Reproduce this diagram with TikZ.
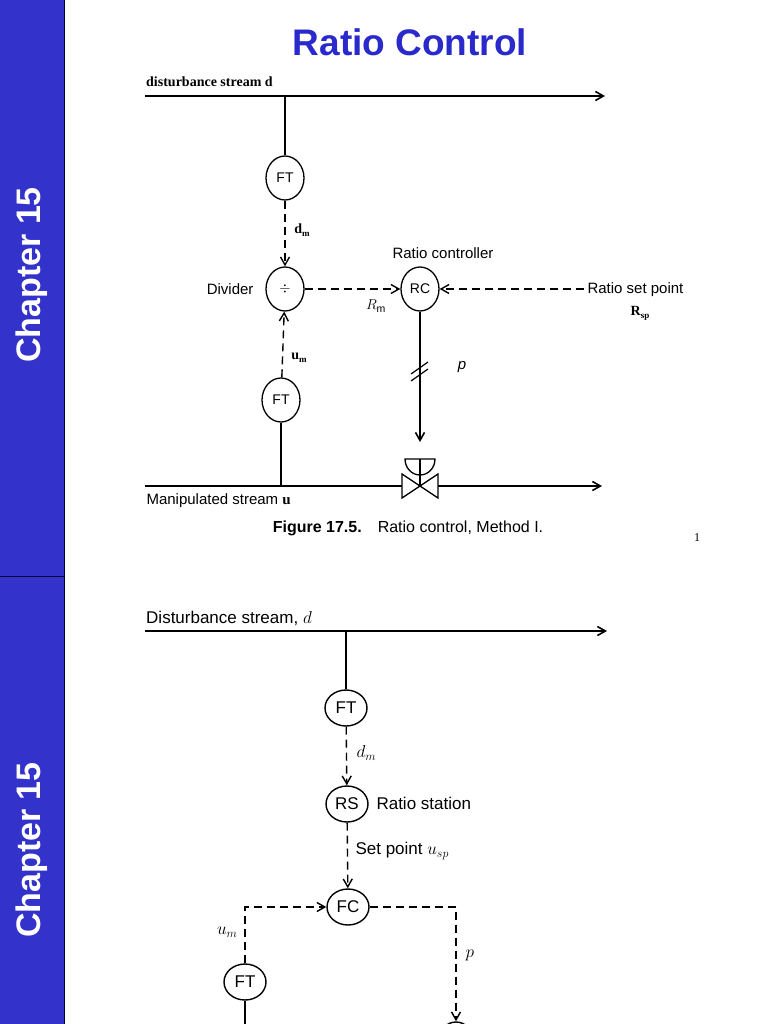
\documentclass[tikz,border=0pt]{standalone}
\usepackage{fontspec}
\setmainfont{Liberation Sans}
\newfontfamily\serifx{Liberation Serif}
\usetikzlibrary{arrows.meta,shapes.geometric}
\definecolor{barblue}{HTML}{3333CC}
\definecolor{titleblue}{HTML}{2A2ACC}
\tikzset{
  inst/.style={draw,line width=1.3pt,ellipse,minimum width=38pt,minimum height=44pt,inner sep=0pt,font=\fontsize{14}{14}\selectfont},
  inst2/.style={draw,line width=1.4pt,ellipse,minimum width=42pt,minimum height=36pt,inner sep=0pt,font=\fontsize{17}{17}\selectfont},
  pipe/.style={line width=1.6pt},
  sig/.style={line width=1.4pt,dash pattern=on 8pt off 5pt},
  arr/.style={-{Straight Barb[length=8pt,width=9pt]}},
  lbl/.style={font=\fontsize{15}{15}\selectfont},
  lbl2/.style={font=\fontsize{17}{17}\selectfont},
  sbl/.style={font=\serifx\fontsize{14}{14}\selectfont\bfseries},
}
\begin{document}
\begin{tikzpicture}[x=1pt,y=-1pt]
\useasboundingbox (0,0) rectangle (768,1024);
\clip (0,0) rectangle (768,1024);
\fill[white] (0,0) rectangle (768,1024);
% side bars
\fill[barblue] (0,0) rectangle (64,1024);
\draw[black!80!blue,thick] (0,576) -- (64,576);
\draw[black!80!blue] (64,0) -- (64,1024);
\node[rotate=90,text=white,font=\fontsize{34}{34}\selectfont\bfseries] (ch1) at (32,275) {Chapter 15};
\node[rotate=90,text=white,font=\fontsize{34}{34}\selectfont\bfseries] (ch2) at (32,850) {Chapter 15};
\node[text=titleblue,font=\fontsize{37}{37}\selectfont\bfseries] (title) at (410,42) {Ratio Control};

% ---- top diagram ----
\coordinate (d0) at (145,96); \coordinate (d1) at (605,96); \coordinate (dj) at (285,96);
\draw[pipe,arr] (d0) -- (d1);
\node[anchor=south west,inner sep=1pt,sbl] (dlab) at (145,88) {disturbance stream d};
\node[inst] (ft1) at (285,178) {FT};
\draw[pipe] (dj) -- (ft1);
\node[inst] (div) at (285,289) {$\div$};
\node[lbl,anchor=east] (divl) at (257,289) {Divider};
\draw[sig,arr] (ft1) -- (div);
\node[sbl] (dm) at (302,230) {d\raisebox{-3pt}{\small m}};
\node[inst] (rc) at (420,289) {RC};
\node[lbl] (rcl) at (443,253) {Ratio controller};
\draw[sig,arr] (div) -- (rc);
\node[lbl] (rm) at (376,306) {$R_{\mathrm{m}}$};
\coordinate (sp) at (584,289);
\draw[sig,arr] (sp) -- (rc);
\node[lbl,anchor=west] (spl) at (584,290) {Ratio set point};
\node[sbl] (rsp) at (640,313) {R\raisebox{-3pt}{\small sp}};
\node[inst] (ft2) at (281,400) {FT};
\draw[sig,arr] (ft2) -- (div);
\node[sbl] (um) at (299,358) {u\raisebox{-3pt}{\small m}};
\coordinate (u0) at (145,486); \coordinate (u1) at (602,486); \coordinate (uj) at (281,486);
\draw[pipe] (ft2) -- (uj);
\draw[pipe] (u0) -- (402,486);
\draw[pipe,arr] (438,486) -- (u1);
% valve
\coordinate (valve) at (420,486);
\draw[line width=1.3pt] (402,474) -- (438,498) -- (438,474) -- (402,498) -- cycle;
\coordinate (act) at (420,459);
\draw[line width=1.3pt] (405,459) -- (435,459) arc (0:180:15 and 16) -- cycle;
\draw[pipe] (act) -- (valve);
\draw[pipe,arr] (rc) -- (420,442);
\draw[line width=1.2pt] (411,374) -- (428,362);
\draw[line width=1.2pt] (411,381) -- (428,369);
\node[font=\fontsize{15}{15}\selectfont\itshape] (pl) at (462,367) {p};
\node[lbl,anchor=north west] (ulab) at (143,490) {Manipulated stream \textbf{\serifx u}};
\node[font=\fontsize{16}{16}\selectfont] (cap) at (408,528) {\textbf{Figure 17.5.}\quad Ratio control, Method I.};
\node[font=\serifx\fontsize{12}{12}\selectfont] (pg) at (697,538) {1};

% ---- bottom diagram ----
\coordinate (e0) at (145,631); \coordinate (e1) at (607,631); \coordinate (ej) at (346,631);
\draw[pipe,arr] (e0) -- (e1);
\node[lbl2,anchor=south west,inner sep=1pt] (elab) at (145,627) {Disturbance stream, $d$};
\node[inst2] (ft3) at (346,708) {FT};
\draw[pipe] (ej) -- (ft3);
\node[inst2] (rs) at (347,804) {RS};
\draw[sig,arr] (ft3) -- (rs);
\node[lbl2,anchor=west] (dm2) at (353,753) {$d_m$};
\node[lbl2,anchor=west] (rsl) at (373,803) {Ratio station};
\node[inst2] (fc) at (348,907) {FC};
\draw[sig,arr] (rs) -- (fc);
\node[lbl2,anchor=west] (spl2) at (352,851) {Set point $u_{sp}$};
\node[inst2] (ft4) at (245,982) {FT};
\coordinate (c1) at (245,907);
\draw[sig,arr] (ft4) -- (c1) -- (fc);
\node[lbl2,anchor=east] (um2) at (241,932) {$u_m$};
\coordinate (c2) at (456,907);
\node[inst2,minimum width=34pt] (v2) at (456,1040) {};
\draw[sig,arr] (fc) -- (c2) -- (v2);
\node[lbl2,anchor=west] (p2) at (462,955) {$p$};
\coordinate (f4b) at (245,1030);
\draw[pipe] (ft4) -- (f4b);
\end{tikzpicture}
\end{document}
